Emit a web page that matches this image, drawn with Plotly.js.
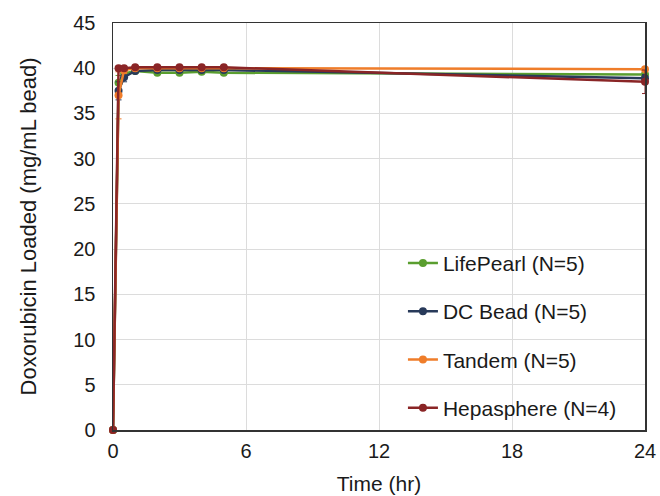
<!DOCTYPE html>
<html>
<head>
<meta charset="utf-8">
<script src="https://cdn.plot.ly/plotly-3.0.1.min.js"></script>
<style>html,body{margin:0;padding:0;background:#fff;}#chart{width:660px;height:496px;}</style>
</head>
<body>
<div id="chart"></div>
<script>
var times = [0, 0.25, 0.5, 1, 2, 3, 4, 5, 24];
var names = ["LifePearl (N=5)", "DC Bead (N=5)", "Tandem (N=5)", "Hepasphere (N=4)"];
var lifePearl  = [0, 38.4, 39.4, 39.7, 39.5, 39.5, 39.6, 39.5, 39.3];
var dcBead     = [0, 37.5, 39.0, 39.7, 39.8, 39.8, 39.8, 39.8, 38.9];
var tandem     = [0, 37.0, 39.8, 40.0, 40.0, 40.0, 40.0, 40.0, 39.9];
var hepasphere = [0, 40.0, 40.0, 40.1, 40.1, 40.1, 40.1, 40.1, 38.5];
var lifePearlErr  = [0, 0.8, 0.4, 0.2, 0.2, 0.2, 0.2, 0.2, 0.3];
var dcBeadErr     = [0, 1.0, 0.5, 0.2, 0.1, 0.1, 0.1, 0.1, 0.4];
var tandemErr     = [0, 2.6, 0.4, 0.1, 0.1, 0.1, 0.1, 0.1, 0.1];
var hepasphereErr = [0, 0.1, 0.1, 0.1, 0.1, 0.1, 0.1, 0.1, 1.3];
var colors = ["#5a9e2f", "#283a5a", "#ef7d2a", "#8a2526"];
var series = [lifePearl, dcBead, tandem, hepasphere];
var errs = [lifePearlErr, dcBeadErr, tandemErr, hepasphereErr];

var traces = series.map(function (ys, i) {
  return {
    x: times, y: ys, name: names[i], type: "scatter", mode: "lines+markers",
    legendgroup: "g" + i,
    line: {color: colors[i], width: 2.5},
    marker: {color: colors[i], size: 8},
    error_y: {type: "data", array: errs[i], visible: true, color: colors[i], thickness: 1, width: 3},
    cliponaxis: false
  };
});

var layout = {
  width: 660, height: 496,
  margin: {l: 113, r: 15, t: 23, b: 66},
  paper_bgcolor: "#fff", plot_bgcolor: "#fff",
  font: {family: "Liberation Sans, Arial, sans-serif", size: 20, color: "#1a1a1a"},
  showlegend: true,
  legend: {
    x: 0.545, y: 0.46, xanchor: "left", yanchor: "top",
    bgcolor: "rgba(255,255,255,0)", borderwidth: 0,
    font: {size: 21, color: "#1a1a1a"}, tracegroupgap: 18, itemwidth: 30
  },
  xaxis: {
    range: [0, 24], tickvals: [0, 6, 12, 18, 24], ticks: "",
    showgrid: true, gridcolor: "#dcdcdc", gridwidth: 1,
    showline: true, linecolor: "#333", linewidth: 1.5, mirror: true,
    zeroline: false, ticklabelstandoff: 2,
    title: {text: "Time (hr)", font: {size: 21}, standoff: 16}
  },
  yaxis: {
    range: [0, 45], dtick: 5, ticks: "",
    showgrid: true, gridcolor: "#dcdcdc", gridwidth: 1,
    showline: true, linecolor: "#333", linewidth: 1.5, mirror: true,
    zeroline: false, ticklabelstandoff: 12,
    title: {text: "Doxorubicin Loaded (mg/mL bead)", font: {size: 22}, standoff: 30}
  }
};

Plotly.newPlot("chart", traces, layout, {displayModeBar: false, staticPlot: true});
</script>
</body>
</html>
